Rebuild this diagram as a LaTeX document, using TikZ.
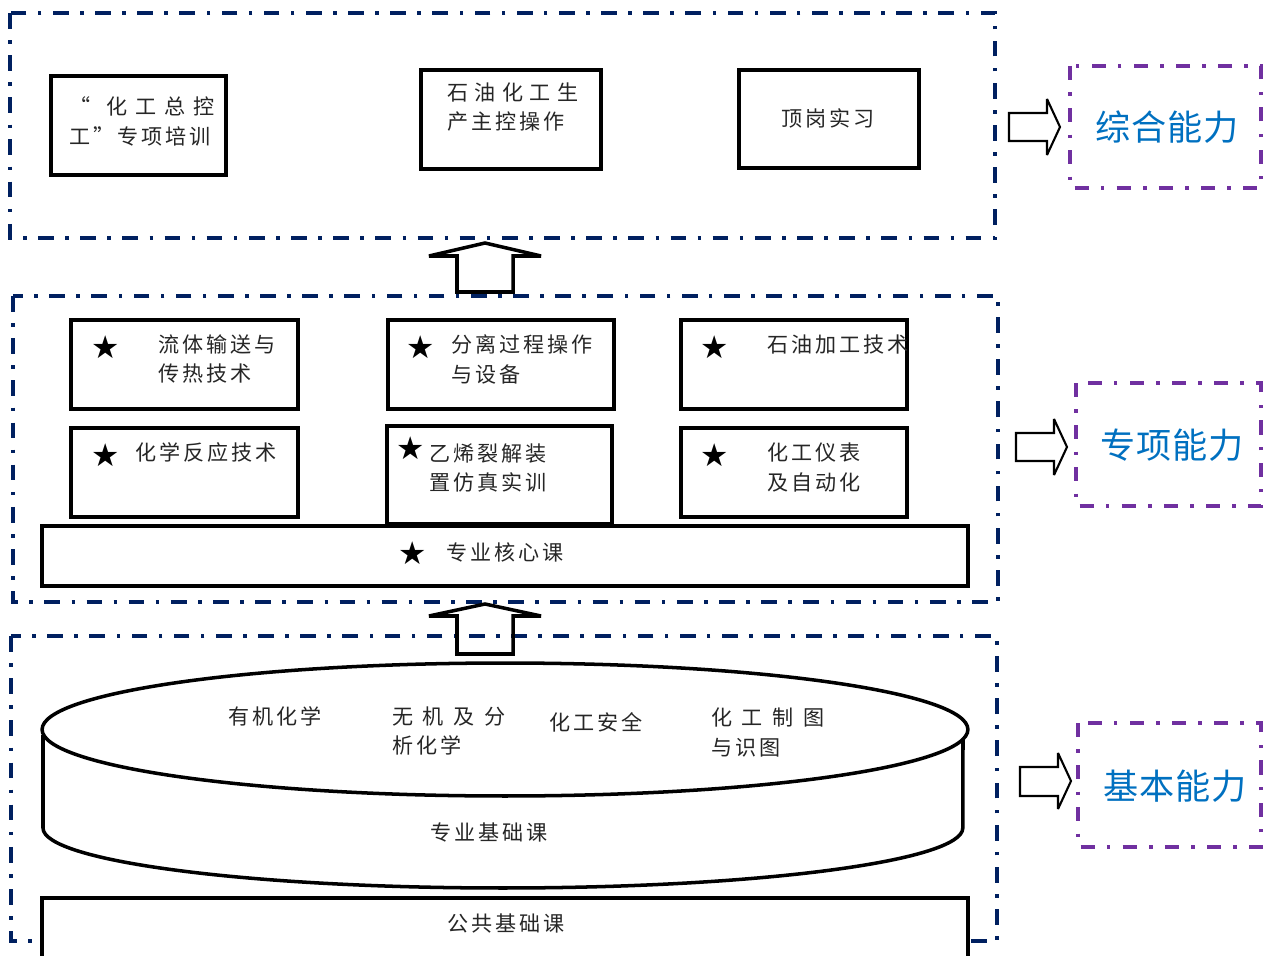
\documentclass[tikz,border=0pt]{standalone}
\usepackage{fontspec}
\usetikzlibrary{fit}
\newfontfamily\cjk[LetterSpace=14]{Noto Sans CJK SC}
\newfontfamily\capfont[LetterSpace=3]{Noto Sans CJK SC}
\newfontfamily\symf{DejaVu Sans}
\definecolor{frameblue}{RGB}{0,32,96}
\definecolor{abilitypurple}{RGB}{112,48,160}
\definecolor{abilityblue}{RGB}{0,112,192}
\tikzset{
  levelframe/.style={draw=frameblue, line width=2.2pt, dash pattern=on 9pt off 6.5pt on 2pt off 6.5pt},
  abilityframe/.style={draw=abilitypurple, line width=2.2pt, dash pattern=on 8pt off 7pt on 2pt off 7pt},
  course/.style={draw, line width=2pt, fill=white, inner sep=0pt},
  coursetext/.style={font=\cjk\fontsize{12}{17}\selectfont, text=black!85, inner sep=0pt, align=left},
  starmark/.style={font=\symf\fontsize{18}{18}\selectfont, inner sep=0pt},
  hollowarrow/.style={draw, line width=1.2pt, miter limit=3},
  uparrow/.style={draw, line width=2pt, miter limit=2},
  abilitytext/.style={font=\capfont\fontsize{20}{24}\selectfont, text=abilityblue, inner sep=0pt}
}
\begin{document}
\begin{tikzpicture}[x=0.02cm, y=-0.02cm]
        \useasboundingbox (0,0) rectangle (1264,956);
        \clip (0,0) rectangle (1264,956);
        % --- Level frames ---
        \draw[levelframe] (10,13) rectangle (995,238);
        \draw[levelframe] (13,296) rectangle (998,602);
        \draw[levelframe] (11,636) rectangle (997,941);

        % --- Top level: comprehensive ---
        \node[course, fit={(51,76) (226,175)}] (zongkong) {};
        \node[coursetext, anchor=west] (zongkongtext) at (69,121.5) {\makebox[2.9cm][s]{“ \ 化 工 总 控}\\工”专项培训};
        \node[course, fit={(421,70) (601,169)}] (zhukong) {};
        \node[coursetext, anchor=west] (zhukongtext) at (447,107) {\makebox[2.62cm][s]{石 油 化 工 生}\\产主控操作};
        \node[course, fit={(739,70) (919,168)}] (dinggang) {};
        \node[coursetext] (dinggangtext) at (828,118) {顶岗实习};

        % --- Up arrows between levels ---
        \draw[uparrow] (457,292) -- (457,256) -- (429,256) -- (485,243) -- (541,256) -- (513,256) -- (513,292) -- cycle;
        \draw[uparrow] (457,654) -- (457,616) -- (429,616) -- (485,604) -- (541,616) -- (513,616) -- (513,654) -- cycle;

        % --- Middle level: core courses ---
        \node[course, fit={(71,320) (298,409)}] (liuti) {};
        \node[starmark] (liutistar) at (106,347) {★};
        \node[coursetext, anchor=west] (liutitext) at (158,359) {流体输送与\\传热技术};
        \node[course, fit={(388,320) (614,409)}] (fenli) {};
        \node[starmark] (fenlistar) at (421,347) {★};
        \node[coursetext, anchor=west] (fenlitext) at (451,359.5) {分离过程操作\\与设备};
        \node[course, fit={(681,320) (907,409)}] (shiyou) {};
        \node[starmark] (shiyoustar) at (715,347) {★};
        \node[coursetext, anchor=west] (shiyoutext) at (767,344) {石油加工技术};
        \node[course, fit={(71,428) (298,517)}] (fanying) {};
        \node[starmark] (fanyingstar) at (106,455) {★};
        \node[coursetext, anchor=west] (fanyingtext) at (135,452) {化学反应技术};
        \node[course, fit={(387,426) (612,524)}] (yixi) {};
        \node[starmark] (yixistar) at (411,448) {★};
        \node[coursetext, anchor=west] (yixitext) at (429,468) {乙烯裂解装\\置仿真实训};
        \node[course, fit={(681,428) (907,517)}] (yibiao) {};
        \node[starmark] (yibiaostar) at (715,455) {★};
        \node[coursetext, anchor=west] (yibiaotext) at (767,467.5) {化工仪表\\及自动化};
        \node[course, fit={(42,526) (968,586)}] (hexin) {};
        \node[starmark] (hexinstar) at (413,553) {★};
        \node[coursetext, anchor=west] (hexintext) at (446,552) {专业核心课};

        % --- Bottom level: basic courses ---
        \draw[course] (43,735) -- (43,828) arc[start angle=180, end angle=360, x radius=9.2cm, y radius=1.2cm] -- (963,740);
        \draw[course] (505,729.5) ellipse [x radius=9.26cm, y radius=1.33cm];
        \node[coursetext, anchor=west] (youji) at (228,716) {有机化学};
        \node[coursetext, anchor=west] (wuji) at (392,731) {\makebox[2.26cm][s]{无 机 及 分}\\析化学};
        \node[coursetext, anchor=west] (anquan) at (549,722) {化工安全};
        \node[coursetext, anchor=west] (zhitu) at (711,732.5) {\makebox[2.26cm][s]{化 工 制 图}\\与识图};
        \node[coursetext, anchor=west] (jichutext) at (430,832) {专业基础课};
        \node[course, fit={(42,898) (968,985)}] (gonggong) {};
        \node[coursetext, anchor=west] (gonggongtext) at (447,923) {公共基础课};

        % --- Ability labels ---
        \draw[hollowarrow] (1009,113) -- (1047,113) -- (1047,99) -- (1060,127) -- (1047,155) -- (1047,141) -- (1009,141) -- cycle;
        \draw[abilityframe] (1070,66) rectangle (1261,188);
        \node[abilitytext] (zonghe) at (1167,127) {综合能力};
        \draw[hollowarrow] (1016,433) -- (1054,433) -- (1054,419) -- (1067,447) -- (1054,475) -- (1054,461) -- (1016,461) -- cycle;
        \draw[abilityframe] (1076,383) rectangle (1261,506);
        \node[abilitytext] (zhuanxiang) at (1172,445) {专项能力};
        \draw[hollowarrow] (1020,767) -- (1058,767) -- (1058,753) -- (1071,781) -- (1058,809) -- (1058,796) -- (1020,796) -- cycle;
        \draw[abilityframe] (1078,723) rectangle (1261,847);
        \node[abilitytext] (jiben) at (1175,786) {基本能力};

        \end{tikzpicture}
\end{document}
